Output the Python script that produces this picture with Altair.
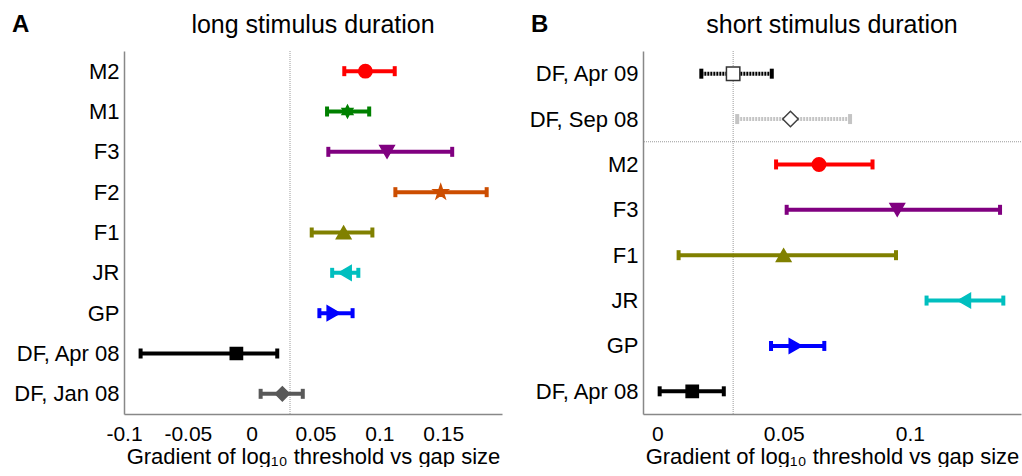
import json
import math
import altair as alt
import pandas as pd

# ---------------- data ----------------
A_labels = ["M2", "M1", "F3", "F2", "F1", "JR", "GP", "DF, Apr 08", "DF, Jan 08"]
A_mid = [0.089, 0.075, 0.106, 0.148, 0.072, 0.073, 0.064, -0.012, 0.024]
A_lo = [0.0725, 0.059, 0.060, 0.1125, 0.047, 0.063, 0.053, -0.087, 0.007]
A_hi = [0.112, 0.092, 0.157, 0.184, 0.0945, 0.0835, 0.079, 0.020, 0.040]

B_labels = ["DF, Apr 09", "DF, Sep 08", "M2", "F3", "F1", "JR", "GP", "DF, Apr 08"]
B_mid = [0.030, 0.0527, 0.064, 0.095, 0.050, 0.1215, 0.0547, 0.0138]
B_lo = [0.0174, 0.0316, 0.047, 0.0512, 0.0084, 0.1066, 0.045, 0.0009]
B_hi = [0.0453, 0.0763, 0.0852, 0.1357, 0.0945, 0.137, 0.0661, 0.0263]

A_ticks = [-0.1, -0.05, 0, 0.05, 0.1, 0.15]
B_ticks = [0, 0.05, 0.1]
A_domain = [-0.1, 0.196]
B_domain = [-0.0057, 0.144]
REF_X = [0.03]          # dotted vertical reference
B_SEP = [2.5]           # dotted separator between first two rows and the rest of B

# ---------------- styles ----------------
def star_path(n, inner):
    pts = []
    for k in range(2 * n):
        r = 1.0 if k % 2 == 0 else inner
        a = -math.pi / 2 + k * math.pi / n
        pts.append(f"{r * math.cos(a):.3f},{r * math.sin(a):.3f}")
    return "M" + "L".join(pts) + "Z"

PENTA = star_path(5, 0.40)
HEXA = star_path(6, 0.55)

# colour, stroke colour, fill, shape, size, dotted line
STYLE = {
    "M2": ("#ff0000", "#ff0000", "#ff0000", "circle", 180, False),
    "M1": ("#008000", "#008000", "#008000", HEXA, 150, False),
    "F3": ("#800080", "#800080", "#800080", "triangle-down", 210, False),
    "F2": ("#cc4d00", "#cc4d00", "#cc4d00", PENTA, 230, False),
    "F1": ("#808000", "#808000", "#808000", "triangle-up", 210, False),
    "JR": ("#00bfbf", "#00bfbf", "#00bfbf", "triangle-left", 210, False),
    "GP": ("#0000ff", "#0000ff", "#0000ff", "triangle-right", 210, False),
    "DF, Apr 08": ("#000000", "#000000", "#000000", "square", 150, False),
    "DF, Jan 08": ("#595959", "#595959", "#595959", "diamond", 200, False),
    "DF, Apr 09": ("#000000", "#333333", "#ffffff", "square", 180, True),
    "DF, Sep 08": ("#c4c4c4", "#404040", "#ffffff", "diamond", 240, True),
}

FONT = "Liberation Sans"
W, H = 378, 363


def frame(labels, mid, lo, hi):
    rows = []
    for i, lab in enumerate(labels):
        col, scol, fcol, shp, sz, dot = STYLE[lab]
        rows.append(dict(label=lab, pos=i + 1, mid=mid[i], lo=lo[i], hi=hi[i],
                         color=col, scolor=scol, fcolor=fcol, shape=shp,
                         size=sz, dotted=dot))
    return pd.DataFrame(rows)


def panel(labels, mid, lo, hi, ticks, domain, title, letter, sep=None):
    df = frame(labels, mid, lo, hi)
    n = len(labels)
    xscale = alt.Scale(domain=domain, nice=False, zero=False)
    yscale = alt.Scale(domain=[0.5, n + 0.5], reverse=True, nice=False, zero=False)
    xaxis = alt.Axis(values=ticks, labelExpr="'' + datum.value",
                     title="Gradient of log₁₀ threshold vs gap size",
                     grid=False, ticks=False, labelFlush=False, labelOverlap=False,
                     labelFontSize=21, labelPadding=9, titlePadding=2)
    yaxis = alt.Axis(values=list(range(1, n + 1)),
                     labelExpr=json.dumps(labels) + "[datum.value - 1]",
                     title=None, grid=False, ticks=False, labelPadding=5,
                     labelOverlap=False)

    base = alt.Chart(df)

    ref = alt.Chart(pd.DataFrame({"x": REF_X})).mark_rule(
        color="#9a9a9a", strokeWidth=1, strokeDash=[1, 1]
    ).encode(x=alt.X("x:Q", scale=xscale, axis=xaxis))

    lines = base.mark_rule(strokeWidth=4, opacity=1).encode(
        x=alt.X("lo:Q", scale=xscale, axis=xaxis),
        x2="hi:Q",
        y=alt.Y("pos:Q", scale=yscale, axis=yaxis),
        color=alt.Color("color:N", scale=None),
        strokeDash=alt.condition("datum.dotted", alt.value([2, 1]), alt.value([1, 0])),
    )

    caps = base.transform_fold(["lo", "hi"], as_=["end", "val"]).mark_tick(
        thickness=4, size=10, opacity=1
    ).encode(
        x=alt.X("val:Q", scale=xscale, axis=xaxis),
        y=alt.Y("pos:Q", scale=yscale, axis=yaxis),
        color=alt.Color("color:N", scale=None),
    )

    pts = base.mark_point(opacity=1, strokeWidth=1.5).encode(
        x=alt.X("mid:Q", scale=xscale, axis=xaxis),
        y=alt.Y("pos:Q", scale=yscale, axis=yaxis),
        shape=alt.Shape("shape:N", scale=None),
        size=alt.Size("size:Q", scale=None),
        fill=alt.Fill("fcolor:N", scale=None),
        stroke=alt.Stroke("scolor:N", scale=None),
    )

    letter_txt = alt.Chart(pd.DataFrame({"t": [letter]})).mark_text(
        font=FONT, fontSize=24, fontWeight="bold", align="left", baseline="alphabetic",
        color="black"
    ).encode(text="t:N", x=alt.value(-112), y=alt.value(-19))

    title_txt = alt.Chart(pd.DataFrame({"t": [title]})).mark_text(
        font=FONT, fontSize=25, fontWeight="normal", align="center",
        baseline="alphabetic", color="black"
    ).encode(text="t:N", x=alt.value(W / 2), y=alt.value(-18))

    layers = [ref]
    if sep is not None:
        hsep = alt.Chart(pd.DataFrame({"y": sep})).mark_rule(
            color="#9a9a9a", strokeWidth=1, strokeDash=[1, 1]
        ).encode(y=alt.Y("y:Q", scale=yscale, axis=yaxis))
        layers.append(hsep)
    layers += [lines, caps, pts, letter_txt, title_txt]

    return alt.layer(*layers).properties(width=W, height=H)


pA = panel(A_labels, A_mid, A_lo, A_hi, A_ticks, A_domain, "long stimulus duration", "A")
pB = panel(B_labels, B_mid, B_lo, B_hi, B_ticks, B_domain, "short stimulus duration", "B",
           sep=B_SEP)

chart = alt.hconcat(pA, pB, spacing=27).properties(
    padding={"left": 12, "top": 13, "right": 0, "bottom": 0}
).configure_view(stroke=None).configure_axis(
    labelFont=FONT, labelFontSize=22, labelColor="black",
    titleFont=FONT, titleFontSize=22, titleFontWeight="normal", titleColor="black",
    domainColor="#888888", domainWidth=1.5,
)

chart.save("out.html", embed_options={"renderer": "svg", "actions": False})
